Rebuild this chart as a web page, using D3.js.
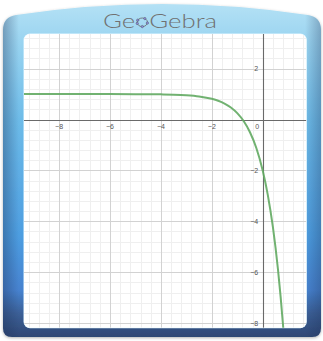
<!DOCTYPE html>
<html><head><meta charset="utf-8">
<script src="https://cdn.jsdelivr.net/npm/d3@7"></script>
<style>html,body{margin:0;padding:0;background:#fff;}svg{display:block;}</style>
</head><body>
<script>
// ---- data ----
const xTickValues = [-8, -6, -4, -2];
const yTickValues = [2, -2, -4, -6, -8];
const curveX = [-9.4, -7, -5, -4, -3.5, -3, -2.5, -2, -1.75, -1.5, -1.25, -1, -0.75, -0.5, -0.25, 0, 0.2, 0.4, 0.6, 0.8, 0.9];
const curveY = [1.0, 1.0, 0.997, 0.988, 0.977, 0.953, 0.906, 0.8125, 0.735, 0.625, 0.47, 0.25, -0.061, -0.5, -1.121, -2, -2.959, -4.223, -5.892, -8.094, -9.446];
const title = "GeoGebra";

const W = 323, H = 341;
const plot = {x0: 24, y0: 34, x1: 306.3, y1: 327.7};
const pxPerUnit = 25.45;
const x = d3.scaleLinear().domain([-(262.7 - plot.x0) / pxPerUnit, (plot.x1 - 262.7) / pxPerUnit]).range([plot.x0, plot.x1]);
const y = d3.scaleLinear().domain([-(plot.y1 - 119.5) / pxPerUnit, (119.5 - plot.y0) / pxPerUnit]).range([plot.y1, plot.y0]);

const svg = d3.select("body").append("svg").attr("width", W).attr("height", H);
const defs = svg.append("defs");

const g1 = defs.append("linearGradient").attr("id", "frameGrad").attr("x1", 0).attr("y1", 0).attr("x2", 0).attr("y2", 1);
[[0, "#b4e1f5"], [0.12, "#98d3f0"], [0.35, "#6dbbe8"], [0.7, "#4d9de0"], [0.86, "#4682cf"], [0.93, "#3b5f96"], [1, "#2f4774"]]
  .forEach(([o, c]) => g1.append("stop").attr("offset", o).attr("stop-color", c));
const g2 = defs.append("linearGradient").attr("id", "sideShade").attr("x1", 0).attr("y1", 0).attr("x2", 1).attr("y2", 0);
[[0, "#1c2f55", 0.35], [0.05, "#1c2f55", 0], [0.95, "#1c2f55", 0], [1, "#1c2f55", 0.3]]
  .forEach(([o, c, a]) => g2.append("stop").attr("offset", o).attr("stop-color", c).attr("stop-opacity", a));
const f = defs.append("filter").attr("id", "shadow").attr("x", -0.1).attr("y", -0.1).attr("width", 1.2).attr("height", 1.2);
f.append("feDropShadow").attr("dx", 0).attr("dy", 1).attr("stdDeviation", 1.6).attr("flood-color", "#000").attr("flood-opacity", 0.3);
defs.append("clipPath").attr("id", "plotClip").append("rect")
  .attr("x", plot.x0).attr("y", plot.y0).attr("width", plot.x1 - plot.x0).attr("height", plot.y1 - plot.y0).attr("rx", 6);

const framePath = "M3,30 Q3,17 16,15 Q162,-7 308,15 Q321,17 321,30 L321,328 Q321,337 312,337 L12,337 Q3,337 3,328 Z";
svg.append("path").attr("d", framePath).attr("fill", "url(#frameGrad)").attr("filter", "url(#shadow)");
svg.append("path").attr("d", framePath).attr("fill", "url(#sideShade)");

// title
const t = svg.append("text").attr("x", 160).attr("y", 27.5).attr("text-anchor", "middle")
  .attr("font-family", "Lato, 'Open Sans', sans-serif").attr("font-weight", 300).attr("font-size", 20)
  .attr("textLength", 114).attr("lengthAdjust", "spacingAndGlyphs")
  .attr("fill", "#707070");
t.append("tspan").text(title.slice(0, 2));
t.append("tspan").attr("fill-opacity", 0).text(title.slice(2, 3));
t.append("tspan").text(title.slice(3));
// logo in place of "o"
let lc = {cx: 141.7, cy: 22.3};
try {
  const ext = t.node().getExtentOfChar(2);
  lc = {cx: ext.x + ext.width / 2, cy: 22.3};
} catch (e) {}
const logo = svg.append("g");
logo.append("ellipse").attr("cx", lc.cx).attr("cy", lc.cy).attr("rx", 5.2).attr("ry", 4.3)
  .attr("fill", "none").attr("stroke", "#666").attr("stroke-width", 0.8);
[-150, -60, 10, 90, 165].forEach(a => {
  const r = a * Math.PI / 180;
  logo.append("circle").attr("cx", lc.cx + 5.2 * Math.cos(r)).attr("cy", lc.cy + 4.3 * Math.sin(r)).attr("r", 1.2)
    .attr("fill", "#8c8ce0").attr("stroke", "#444").attr("stroke-width", 0.4);
});

// plot background
svg.append("rect").attr("x", plot.x0 - 0.5).attr("y", plot.y0 - 0.5).attr("width", plot.x1 - plot.x0 + 1).attr("height", plot.y1 - plot.y0 + 1)
  .attr("rx", 6.5).attr("fill", "#dff6ff");
svg.append("rect").attr("x", plot.x0).attr("y", plot.y0).attr("width", plot.x1 - plot.x0).attr("height", plot.y1 - plot.y0)
  .attr("rx", 6).attr("fill", "#fff");

const pg = svg.append("g").attr("clip-path", "url(#plotClip)");
// minor grid (0.4 unit)
const minorX = d3.range(Math.ceil(x.domain()[0] / 0.4), Math.floor(x.domain()[1] / 0.4) + 1).map(i => i * 0.4);
const minorY = d3.range(Math.ceil(y.domain()[0] / 0.4), Math.floor(y.domain()[1] / 0.4) + 1).map(i => i * 0.4);
pg.selectAll(".mx").data(minorX).join("line").attr("x1", d => Math.round(x(d)) + 0.5).attr("x2", d => Math.round(x(d)) + 0.5)
  .attr("y1", plot.y0).attr("y2", plot.y1).attr("stroke", "#efefef").attr("stroke-width", 1);
pg.selectAll(".my").data(minorY).join("line").attr("y1", d => Math.round(y(d)) + 0.5).attr("y2", d => Math.round(y(d)) + 0.5)
  .attr("x1", plot.x0).attr("x2", plot.x1).attr("stroke", "#efefef").attr("stroke-width", 1);
// major grid (2 units)
const majorX = d3.range(Math.ceil(x.domain()[0] / 2), Math.floor(x.domain()[1] / 2) + 1).map(i => i * 2);
const majorY = d3.range(Math.ceil(y.domain()[0] / 2), Math.floor(y.domain()[1] / 2) + 1).map(i => i * 2);
pg.selectAll(".Mx").data(majorX).join("line").attr("x1", d => Math.round(x(d)) + 0.5).attr("x2", d => Math.round(x(d)) + 0.5)
  .attr("y1", plot.y0).attr("y2", plot.y1).attr("stroke", "#d2d2d2").attr("stroke-width", 1);
pg.selectAll(".My").data(majorY).join("line").attr("y1", d => Math.round(y(d)) + 0.5).attr("y2", d => Math.round(y(d)) + 0.5)
  .attr("x1", plot.x0).attr("x2", plot.x1).attr("stroke", "#d2d2d2").attr("stroke-width", 1);
// axes
pg.append("line").attr("x1", plot.x0).attr("x2", plot.x1).attr("y1", Math.round(y(0)) + 0.5).attr("y2", Math.round(y(0)) + 0.5)
  .attr("stroke", "#6a6a6a").attr("stroke-width", 1.1);
pg.append("line").attr("y1", plot.y0).attr("y2", plot.y1).attr("x1", Math.round(x(0)) + 0.5).attr("x2", Math.round(x(0)) + 0.5)
  .attr("stroke", "#6a6a6a").attr("stroke-width", 1.1);

// tick labels
const fmt = d => (d < 0 ? "\u2212" : "") + Math.abs(d);
const lab = svg.append("g").attr("font-family", "'Liberation Sans', Arial, sans-serif").attr("font-size", 7).attr("fill", "#555");
lab.selectAll(".xl").data(xTickValues).join("text").attr("x", d => x(d)).attr("y", y(0) + 9.8).attr("text-anchor", "middle").text(fmt);
lab.append("text").attr("x", x(0) - 5.5).attr("y", y(0) + 9.8).attr("text-anchor", "middle").text("0");
lab.selectAll(".yl").data(yTickValues).join("text").attr("x", x(0) - 4.5).attr("y", d => y(d) + 2.6).attr("text-anchor", "end").text(fmt);

// curve
const pts = curveX.map((v, i) => [v, curveY[i]]);
pg.append("path").datum(pts)
  .attr("d", d3.line().x(d => x(d[0])).y(d => y(d[1])).curve(d3.curveMonotoneX))
  .attr("fill", "none").attr("stroke", "#62aa62").attr("stroke-width", 2).attr("stroke-opacity", 0.9);
</script>
</body></html>
